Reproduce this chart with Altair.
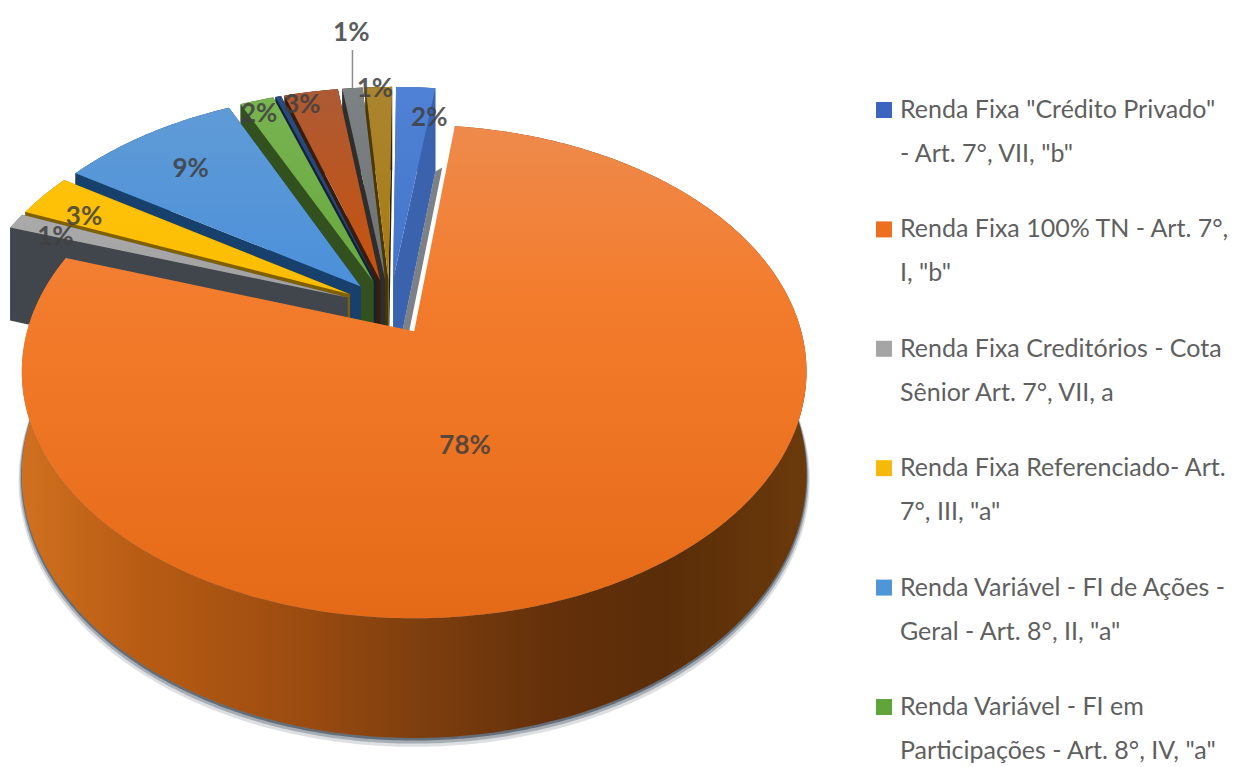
import math
import altair as alt
import pandas as pd

# Data
names = ["Renda Fixa \"Crédito Privado\"", "Renda Fixa 100% TN", "Renda Fixa Creditórios", "Renda Fixa Referenciado",
         "FI de Ações", "FI em Participações", "Outros A", "Outros B", "Outros C", "Outros D"]
values = [1.94, 78.25, 1.06, 2.92, 8.89, 1.67, 0.28, 2.67, 1.0, 1.32]
labels = ["2%", "78%", "1%", "3%", "9%", "2%", "", "3%", "1%", "1%"]
tops = [("#4f82d6", "#4374c8"), ("#ee8a4c", "#e56a17"), ("#aaaaaa", "#a0a0a0"), ("#ffc20a", "#fbbd00"),
        ("#5f9bd6", "#4c90da"), ("#78b450", "#68a840"), ("#2a4a80", "#264478"), ("#ad5a35", "#c8520c"),
        ("#7d8285", "#6f7275"), ("#ab8430", "#a87c10")]
start_walls = ["#2f6fd2", "#8a4412", "#40464c", "#7f6000", "#17406d", "#33501f", "#132239", "#3a1d07", "#2e2e2e", "#4d3900"]
end_walls = ["#3a62ad", "#8a4412", "#5a5a5a", "#7f6000", "#17406d", "#33501f", "#132239", "#2a1505", "#2a2a20", "#2a2000"]
legend_lines = [
    ["Renda Fixa \"Crédito Privado\"", "- Art. 7°, VII, \"b\""],
    ["Renda Fixa 100% TN - Art. 7°,", "I, \"b\""],
    ["Renda Fixa Creditórios - Cota", "Sênior  Art. 7°, VII, a"],
    ["Renda Fixa Referenciado- Art.", "7°, III, \"a\""],
    ["Renda Variável - FI de Ações -", "Geral - Art. 8°, II, \"a\""],
    ["Renda Variável - FI em", "Participações - Art. 8°, IV, \"a\""],
]
legend_colors = ["#3a66c0", "#ed7020", "#a5a5a5", "#f5b90a", "#4f95d8", "#5fa53c"]
label_radius = [0.78, 0.42, 0.86, 0.62, 0.60, 0.90, 0, 0.88, 1.30, 0.98]
label_nudge = [(18, -7), (-41, 24), (-5, 6), (-71, -14), (-36, -22), (-8, -3), (0, 0), (-16, -7), (7, -7), (-4, -1)]

# Projection of the exploded disk (perspective seen from above)
K, A, B, X0, Y0, D = 0.164, 240, 387, 415, 331, 100
EXPLODE = 0.12
TX, TY = -0.066, 0.101


def proj(X, Y, Z=0.0):
    w = 1 + K * Y
    return X0 + B * X / w, Y0 - A * Y / w + D * Z / w


total = sum(values)
slices = []
a = 0.0
for i, v in enumerate(values):
    span = 360 * v / total
    mid = math.radians(a + span / 2)
    slices.append(dict(i=i, a0=a, a1=a + span, cx=TX + EXPLODE * math.sin(mid), cy=TY + EXPLODE * math.cos(mid), mid=mid))
    a += span


def arc(s, Z=0.0, r=1.0, a0=None, a1=None):
    a0 = s["a0"] if a0 is None else a0
    a1 = s["a1"] if a1 is None else a1
    n = max(2, int((a1 - a0) * 1.5))
    pts = []
    for j in range(n + 1):
        t = math.radians(a0 + (a1 - a0) * j / n)
        pts.append(proj(s["cx"] + r * math.sin(t), s["cy"] + r * math.cos(t), Z))
    return pts


xs = alt.Scale(domain=[8, 1233], range=[0, 1225], nice=False, zero=False)
ys = alt.Scale(domain=[8, 767], range=[0, 759], nice=False, zero=False)
X = alt.X("x:Q", scale=xs, axis=None)
Y = alt.Y("y:Q", scale=ys, axis=None)


def poly(pts, fill, opacity=1.0):
    pts = list(pts) + [pts[0]]
    df = pd.DataFrame({"x": [p[0] for p in pts], "y": [p[1] for p in pts], "i": range(len(pts))})
    return alt.Chart(df).mark_line(fill=fill, stroke="transparent", strokeWidth=0, fillOpacity=opacity, clip=False).encode(
        x=X, y=Y, order=alt.Order("i:Q"))


def vgrad(c0, c1):
    return alt.Gradient(gradient="linear", x1=0, x2=0, y1=0, y2=1,
                        stops=[alt.GradientStop(color=c0, offset=0), alt.GradientStop(color=c1, offset=1)])


wall_grad = alt.Gradient(gradient="linear", x1=0, x2=1, y1=0, y2=0, stops=[
    alt.GradientStop(color="#d0701f", offset=0), alt.GradientStop(color="#b85c14", offset=0.15),
    alt.GradientStop(color="#9c4c10", offset=0.35), alt.GradientStop(color="#7f3f0e", offset=0.5),
    alt.GradientStop(color="#63300a", offset=0.68), alt.GradientStop(color="#5a2d08", offset=0.82),
    alt.GradientStop(color="#6b3a0c", offset=1)])
orange_top = alt.Gradient(gradient="linear", x1=0, x2=0, y1=0, y2=1, stops=[
    alt.GradientStop(color="#ee8a4c", offset=0), alt.GradientStop(color="#f37c2c", offset=0.35),
    alt.GradientStop(color="#e56a17", offset=1)])

layers = []
orange = slices[1]
for r, z, op in [(1.008, 1.05, 0.16), (1.005, 1.032, 0.3), (1.002, 1.016, 0.55)]:
    pts = arc(orange, z, r, 75, 288)
    layers.append(poly(pts, "#2c3a48", op))

for s in sorted(slices, key=lambda q: -q["cy"]):
    i = s["i"]
    ap = (s["cx"], s["cy"])
    if i == 1:
        layers.append(poly(arc(s, 0) + arc(s, 1)[::-1], wall_grad))
        layers.append(poly([proj(ap[0], ap[1])] + arc(s), orange_top))
        continue
    p0, p1 = proj(ap[0], ap[1], 0), proj(ap[0], ap[1], 1)
    st0, st1 = arc(s, 0)[0], arc(s, 1)[0]
    en0, en1 = arc(s, 0)[-1], arc(s, 1)[-1]
    if i == 0:
        layers.append(poly([en1, (en1[0] + 7, en1[1] - 4), (p1[0] + 7, p1[1]), p1], "#7d8085"))
    layers.append(poly(arc(s, 0) + arc(s, 1)[::-1], end_walls[i]))
    layers.append(poly([p0, en0, en1, p1], end_walls[i]))
    layers.append(poly([p0, st0, st1, p1], start_walls[i]))
    layers.append(poly([proj(ap[0], ap[1])] + arc(s), vgrad(*tops[i])))

# data labels
lx, ly, lt = [], [], []
for s in slices:
    if not labels[s["i"]]:
        continue
    r = label_radius[s["i"]]
    m = s["mid"]
    p = proj(s["cx"] + r * math.sin(m), s["cy"] + r * math.cos(m))
    n = label_nudge[s["i"]]
    lx.append(p[0] + n[0]); ly.append(p[1] + n[1]); lt.append(labels[s["i"]])
lab = pd.DataFrame({"x": lx, "y": ly, "t": lt})
FONT = "Lato"
layers.append(alt.Chart(lab).mark_text(font=FONT, fontSize=26, fontWeight="bold", color="#404040", opacity=0.85).encode(
    x=X, y=Y, text="t:N"))

# leader line of the lifted label
s8 = slices[8]
top_pt = proj(s8["cx"] + math.sin(s8["mid"]), s8["cy"] + math.cos(s8["mid"]))
layers.append(alt.Chart(pd.DataFrame({"x": [top_pt[0]], "y": [top_pt[1]], "y2": [top_pt[1] - 38]})).mark_rule(
    color="#8a8a8a", strokeWidth=1.5).encode(x=X, y=Y, y2="y2:Q"))

# legend
rows = []
for n, lines in enumerate(legend_lines):
    for m, t in enumerate(lines):
        rows.append({"x": 900, "y": 110 + 119.4 * n + 44 * m, "t": t})
squares = pd.DataFrame({"x": [884] * 6, "y": [110 + 119.4 * n for n in range(6)], "c": legend_colors})
layers.append(alt.Chart(squares).mark_square(size=256, opacity=1).encode(
    x=X, y=Y, color=alt.Color("c:N", scale=None, legend=None)))
layers.append(alt.Chart(pd.DataFrame(rows)).mark_text(font=FONT, fontSize=25, color="#5f5f5f", align="left", baseline="middle").encode(
    x=X, y=Y, text="t:N"))

chart = alt.layer(*layers).properties(
    width=1225, height=759, padding=0, autosize=alt.AutoSizeParams(type="none"), background="white"
).configure_view(stroke=None)
chart.save("out.html", embed_options={"renderer": "svg", "actions": False})
